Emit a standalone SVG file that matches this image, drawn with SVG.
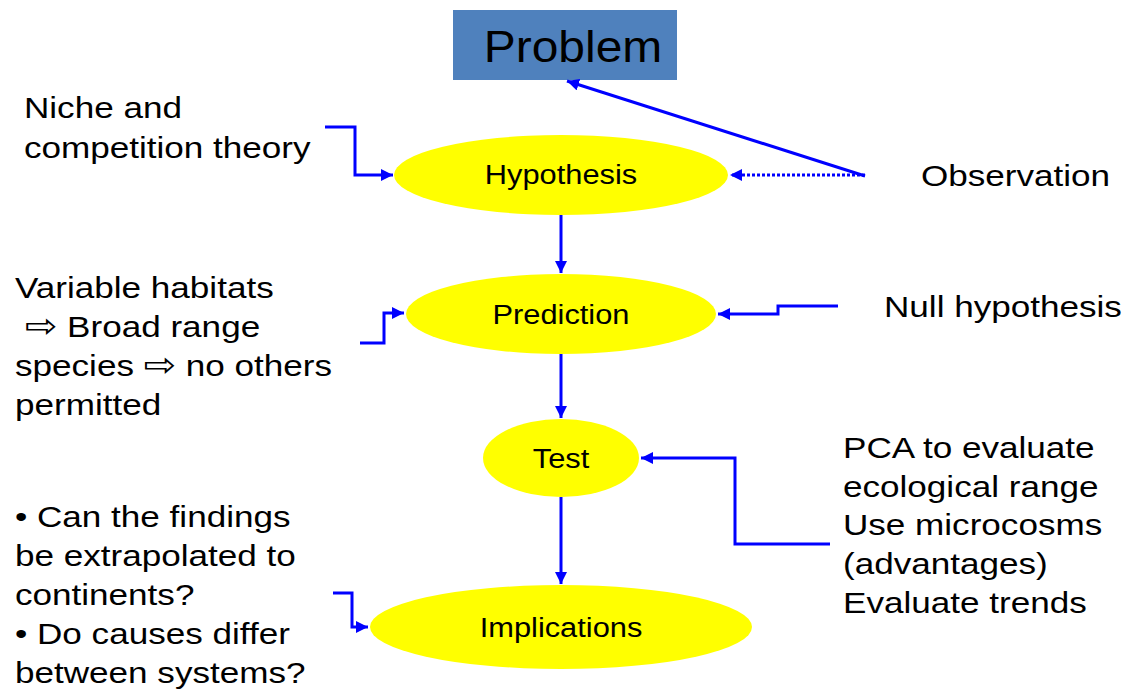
<svg xmlns="http://www.w3.org/2000/svg" width="1127" height="690" viewBox="0 0 1127 690">
<defs>
<marker id="ah" viewBox="0 0 10 10" refX="10" refY="5" markerWidth="4" markerHeight="4" markerUnits="strokeWidth" orient="auto">
<path d="M0,0 L10,5 L0,10 z" fill="#0000FF"/>
</marker>
<style>
.t{font-family:"Liberation Sans",Arial,"DejaVu Sans",sans-serif;fill:#000}
.side{font-size:30px}
.node{font-size:28px;text-anchor:middle}
.ell{fill:#FFFF00}
.c{fill:none;stroke:#0000FF;stroke-width:3;marker-end:url(#ah)}
.arr{font-family:"DejaVu Sans",sans-serif;font-size:33px}
</style>
</defs>
<rect width="1127" height="690" fill="#fff"/>
<g id="problem">
<rect x="453" y="10" width="224" height="70" fill="#4F81BD"/>
<text class="t" transform="translate(573,62) scale(1.09,1)" font-size="44" text-anchor="middle">Problem</text>
</g>
<g id="hypothesis">
<ellipse class="ell" cx="561" cy="175" rx="167" ry="40"/>
<text class="t node" transform="translate(561,184) scale(1.1,1)">Hypothesis</text>
</g>
<g id="prediction">
<ellipse class="ell" cx="561" cy="314" rx="155" ry="40"/>
<text class="t node" transform="translate(561,324) scale(1.1,1)">Prediction</text>
</g>
<g id="test">
<ellipse class="ell" cx="561" cy="458" rx="78" ry="39"/>
<text class="t node" transform="translate(561,468) scale(1.1,1)">Test</text>
</g>
<g id="implications">
<ellipse class="ell" cx="561" cy="627" rx="191" ry="42"/>
<text class="t node" transform="translate(561,637) scale(1.1,1)">Implications</text>
</g>
<g id="niche">
<text class="t side" transform="translate(24,118) scale(1.17,1)">Niche and</text>
<text class="t side" transform="translate(24,158) scale(1.17,1)">competition theory</text>
</g>
<g id="observation">
<text class="t side" transform="translate(921,186) scale(1.17,1)">Observation</text>
</g>
<g id="variable">
<text class="t side" transform="translate(15,298) scale(1.17,1)">Variable habitats</text>
<text class="t side" transform="translate(25,337) scale(1.17,1)"><tspan class="arr">⇨</tspan> Broad range</text>
<text class="t side" transform="translate(15,376) scale(1.17,1)">species <tspan class="arr">⇨</tspan> no others</text>
<text class="t side" transform="translate(15,415) scale(1.17,1)">permitted</text>
</g>
<g id="null">
<text class="t side" transform="translate(884,317) scale(1.17,1)">Null hypothesis</text>
</g>
<g id="pca">
<text class="t side" transform="translate(843,458) scale(1.17,1)">PCA to evaluate</text>
<text class="t side" transform="translate(843,497) scale(1.17,1)">ecological range</text>
<text class="t side" transform="translate(843,535) scale(1.17,1)">Use microcosms</text>
<text class="t side" transform="translate(843,574) scale(1.17,1)">(advantages)</text>
<text class="t side" transform="translate(843,613) scale(1.17,1)">Evaluate trends</text>
</g>
<g id="questions">
<text class="t side" transform="translate(15,527) scale(1.17,1)">• Can the findings</text>
<text class="t side" transform="translate(15,566) scale(1.17,1)">be extrapolated to</text>
<text class="t side" transform="translate(15,605) scale(1.17,1)">continents?</text>
<text class="t side" transform="translate(15,644) scale(1.17,1)">• Do causes differ</text>
<text class="t side" transform="translate(15,683) scale(1.17,1)">between systems?</text>
</g>
<g id="connectors">
<path class="c" d="M561,215 V273"/>
<path class="c" d="M561,354 V418"/>
<path class="c" d="M561,497 V584"/>
<path class="c" d="M865,176 L567,81"/>
<path class="c" d="M865,175 H730" stroke-dasharray="3,2"/>
<path class="c" d="M325,127 H355 V175 H393"/>
<path class="c" d="M838,306 H778 V314 H718"/>
<path class="c" d="M360,343 H384 V313 H404"/>
<path class="c" d="M830,544 H735 V458 H641"/>
<path class="c" d="M333,593 H352 V627 H368"/>
</g>
</svg>
